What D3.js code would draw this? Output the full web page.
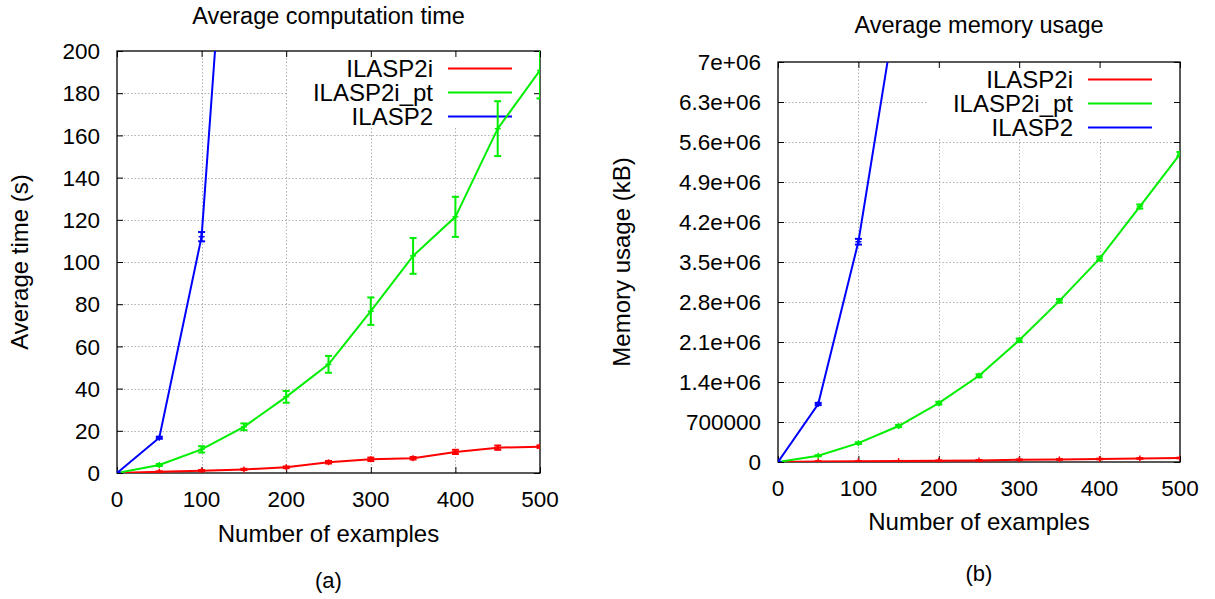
<!DOCTYPE html>
<html>
<head>
<meta charset="utf-8">
<script src="https://cdn.jsdelivr.net/npm/d3@7"></script>
<style>
  html, body { margin: 0; padding: 0; background: #fff; }
  svg { display: block; font-family: "Liberation Sans", Arial, Helvetica, sans-serif; }
</style>
</head>
<body>
<svg id="chart" width="1215" height="599"></svg>
<script>
// ---------------- data ----------------
const examples = [0, 50, 100, 150, 200, 250, 300, 350, 400, 450, 500];
const seriesNames = ["ILASP2i", "ILASP2i_pt", "ILASP2"];
const seriesColors = ["#ff0000", "#00ee00", "#0000ff"];

// (a) average computation time (s)
const timeILASP2i      = [0, 0.6, 1.1, 1.7, 2.7, 5.1, 6.5, 7.0, 10.0, 12.0, 12.5];
const timeILASP2iErr   = [0, 0.2, 0.3, 0.3, 0.4, 0.6, 0.8, 0.6, 1.0, 1.0, 0.6];
const timeILASP2ipt    = [0, 3.8, 11.2, 21.9, 36.1, 51.5, 76.7, 102.9, 121.4, 163.2, 190.8];
const timeILASP2iptErr = [0, 0.5, 1.5, 1.6, 2.8, 4.0, 6.5, 8.5, 9.5, 13.0, 13.3];
const examplesILASP2   = [0, 50, 100, 150];
const timeILASP2       = [0, 16.7, 112, 390];
const timeILASP2Err    = [0, 0.5, 2.2, 0];
const timeTicks        = [0, 20, 40, 60, 80, 100, 120, 140, 160, 180, 200];

// (b) average memory usage (kB)
const memILASP2i       = [0, 8000, 12000, 16000, 23000, 28000, 40000, 45000, 52000, 62000, 70000];
const memILASP2iErr    = [0, 3000, 3000, 3000, 4000, 4000, 5000, 5000, 6000, 6000, 6000];
const memILASP2ipt     = [0, 110000, 330000, 630000, 1030000, 1510000, 2130000, 2820000, 3560000, 4470000, 5390000];
const memILASP2iptErr  = [0, 10000, 15000, 20000, 25000, 25000, 30000, 30000, 35000, 35000, 35000];
const memILASP2        = [0, 1015000, 3855000, 8200000];
const memILASP2Err     = [0, 20000, 50000, 0];
const memTicks         = [0, 700000, 1400000, 2100000, 2800000, 3500000, 4200000, 4900000, 5600000, 6300000, 7000000];
const memTickLabels    = ["0", "700000", "1.4e+06", "2.1e+06", "2.8e+06", "3.5e+06", "4.2e+06", "4.9e+06", "5.6e+06", "6.3e+06", "7e+06"];
const xTicks           = [0, 100, 200, 300, 400, 500];

// ---------------- drawing ----------------
const svg = d3.select("#chart");

function zip(xs, ys, es) { return xs.map((x, i) => ({ x: x, y: ys[i], e: es[i] })); }

function drawPanel(cfg) {
  const { id, left, right, top, bottom, yMax, yTicks, yLabels, series,
          title, titleY, yLabel, yLabelX, xLabelY, tickLabelY, caption, captionY, keyLeft, keyBottom } = cfg;
  const x = d3.scaleLinear().domain([0, 500]).range([left, right]);
  const y = d3.scaleLinear().domain([0, yMax]).range([bottom, top]);
  const g = svg.append("g");
  const cx = (left + right) / 2;

  g.append("clipPath").attr("id", "clip" + id)
    .append("rect").attr("x", left).attr("y", top).attr("width", right - left).attr("height", bottom - top);

  // grid
  const grid = g.append("g").attr("stroke", "#b0b0b0").attr("stroke-width", 1).attr("stroke-dasharray", "1.5,2");
  yTicks.slice(1, -1).forEach(t => grid.append("line")
    .attr("x1", left).attr("x2", right).attr("y1", Math.round(y(t)) + 0.5).attr("y2", Math.round(y(t)) + 0.5));
  xTicks.slice(1, -1).forEach(t => grid.append("line")
    .attr("y1", top).attr("y2", bottom).attr("x1", Math.round(x(t)) + 0.5).attr("x2", Math.round(x(t)) + 0.5));

  // opaque key box
  g.append("rect").attr("x", keyLeft).attr("y", top + 1).attr("width", right - keyLeft - 1)
    .attr("height", keyBottom - top).attr("fill", "#fff");

  // axes with mirrored inward ticks
  const tl = 6;
  const axL = d3.axisLeft(y).tickValues(yTicks).tickSize(-tl).tickFormat("");
  const axR = d3.axisRight(y).tickValues(yTicks).tickSize(-tl).tickFormat("");
  const axB = d3.axisBottom(x).tickValues(xTicks).tickSize(-tl).tickFormat("");
  const axT = d3.axisTop(x).tickValues(xTicks).tickSize(-tl).tickFormat("");
  g.append("g").attr("transform", `translate(${left},0)`).call(axL);
  g.append("g").attr("transform", `translate(${right},0)`).call(axR);
  g.append("g").attr("transform", `translate(0,${bottom})`).call(axB);
  g.append("g").attr("transform", `translate(0,${top})`).call(axT);
  g.selectAll(".domain").remove();
  g.selectAll(".tick line").attr("stroke", "#000").attr("stroke-width", 1);
  g.append("rect").attr("x", left).attr("y", top).attr("width", right - left).attr("height", bottom - top)
    .attr("fill", "none").attr("stroke", "#000").attr("stroke-width", 1.3);

  // tick labels
  yTicks.forEach((t, i) => g.append("text").attr("x", left - 17).attr("y", y(t)).attr("dy", "0.36em")
    .attr("text-anchor", "end").attr("font-size", 22.5).attr("fill", "#000").text(yLabels[i]));
  xTicks.forEach(t => g.append("text").attr("x", x(t)).attr("y", tickLabelY)
    .attr("text-anchor", "middle").attr("font-size", 22.5).attr("fill", "#000").text(t));

  // titles and labels
  g.append("text").attr("x", cx).attr("y", titleY).attr("text-anchor", "middle").attr("font-size", 23.5).text(title);
  g.append("text").attr("x", cx).attr("y", xLabelY).attr("text-anchor", "middle").attr("font-size", 24).text("Number of examples");
  g.append("text").attr("transform", `translate(${yLabelX},${(top + bottom) / 2}) rotate(-90)`)
    .attr("text-anchor", "middle").attr("dy", "0.35em").attr("font-size", 24).text(yLabel);
  g.append("text").attr("x", cx).attr("y", captionY).attr("text-anchor", "middle").attr("font-size", 22).text(caption);

  // legend
  series.forEach((s, i) => {
    const ly = top + 17.5 + 24 * i;
    g.append("text").attr("x", right - 107).attr("y", ly).attr("dy", "0.35em")
      .attr("text-anchor", "end").attr("font-size", 24).text(seriesNames[i]);
    g.append("line").attr("x1", right - 92).attr("x2", right - 28).attr("y1", ly).attr("y2", ly)
      .attr("stroke", seriesColors[i]).attr("stroke-width", 2);
  });

  // data
  const dg = g.append("g").attr("clip-path", `url(#clip${id})`);
  const line = d3.line().x(d => x(d.x)).y(d => y(d.y));
  series.forEach((s, i) => {
    const col = seriesColors[i];
    dg.append("path").datum(s).attr("d", line).attr("fill", "none").attr("stroke", col).attr("stroke-width", 2);
    s.forEach(d => {
      const px = x(d.x), y0 = y(d.y - d.e), y1 = y(d.y + d.e), cw = 3.5;
      const eb = dg.append("g").attr("stroke", col).attr("stroke-width", 2);
      eb.append("line").attr("x1", px).attr("x2", px).attr("y1", y0).attr("y2", y1);
      eb.append("line").attr("x1", px - cw).attr("x2", px + cw).attr("y1", y0).attr("y2", y0);
      eb.append("line").attr("x1", px - cw).attr("x2", px + cw).attr("y1", y1).attr("y2", y1);
      // '+' point marker
      const py = y(d.y), ps = 3;
      eb.append("line").attr("x1", px - ps).attr("x2", px + ps).attr("y1", py).attr("y2", py).attr("stroke-width", 1.5);
      eb.append("line").attr("x1", px).attr("x2", px).attr("y1", py - ps).attr("y2", py + ps).attr("stroke-width", 1.5);
    });
  });
}

drawPanel({
  id: "a", left: 117, right: 540, top: 51, bottom: 473, yMax: 200,
  yTicks: timeTicks, yLabels: timeTicks.map(String),
  series: [zip(examples, timeILASP2i, timeILASP2iErr), zip(examples, timeILASP2ipt, timeILASP2iptErr), zip(examplesILASP2, timeILASP2, timeILASP2Err)],
  title: "Average computation time", titleY: 24, yLabel: "Average time (s)", yLabelX: 20,
  xLabelY: 542, tickLabelY: 507, caption: "(a)", captionY: 588, keyLeft: 288, keyBottom: 127
});

drawPanel({
  id: "b", left: 778, right: 1180, top: 62, bottom: 462, yMax: 7000000,
  yTicks: memTicks, yLabels: memTickLabels,
  series: [zip(examples, memILASP2i, memILASP2iErr), zip(examples, memILASP2ipt, memILASP2iptErr), zip(examplesILASP2, memILASP2, memILASP2Err)],
  title: "Average memory usage", titleY: 33, yLabel: "Memory usage (kB)", yLabelX: 622,
  xLabelY: 530, tickLabelY: 496, caption: "(b)", captionY: 581, keyLeft: 927, keyBottom: 137
});
</script>
</body>
</html>
